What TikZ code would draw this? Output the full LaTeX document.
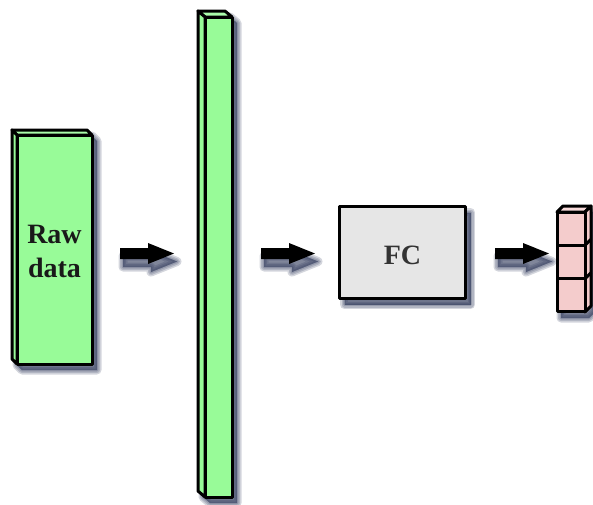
\documentclass[tikz,border=0pt]{standalone}
\usepackage{fontspec}
\setmainfont{Liberation Serif}
\definecolor{boxgreen}{RGB}{152,251,152}
\definecolor{topgreen}{RGB}{170,252,170}
\definecolor{boxpink}{RGB}{244,204,204}
\definecolor{toppink}{RGB}{248,218,218}
\definecolor{fcgray}{RGB}{230,230,230}
\definecolor{fctext}{RGB}{51,51,51}
\definecolor{shadowc}{RGB}{40,50,85}
\tikzset{
  outline/.style={draw=black, line width=3pt, line join=round},
  shadowlayer/.style={fill=shadowc, draw=shadowc, opacity=0.2, line join=round},
  blockarrow/.style={fill=black, draw=none},
  lbl/.style={font=\fontsize{28}{34}\selectfont\bfseries, align=center},
}
\begin{document}
\begin{tikzpicture}[x=1pt, y=-1pt]
\useasboundingbox (0,0) rectangle (593,504);
% ---------- shadows ----------
\foreach \w in {9,6,3,0.1} {
  % raw data prism
  \path[shadowlayer, line width=\w pt, shift={(5,6)}]
    (12,130) -- (87,130) -- (92,135) -- (92,364) -- (17,364) -- (12,359) -- cycle;
  % tall prism
  \path[shadowlayer, line width=\w pt, shift={(5,6)}]
    (198,11) -- (225,11) -- (232,17) -- (232,497) -- (205,497) -- (198,491) -- cycle;
  % FC box
  \path[shadowlayer, line width=\w pt, shift={(5,6)}]
    (339.5,206.5) rectangle (465.5,298.5);
  % cube stack
  \path[shadowlayer, line width=\w pt, shift={(4,6)}]
    (557,212) -- (563,206) -- (591,206) -- (591,306) -- (585,312) -- (557,312) -- cycle;
  % arrows
  \foreach \xa/\xh/\xt in {120/148/174, 261/289/315, 495/523/549} {
    \path[shadowlayer, line width=\w pt, shift={(3,8)}]
      (\xa,248) -- (\xh,248) -- (\xh,243) -- (\xt,253.5) -- (\xh,264) -- (\xh,259) -- (\xa,259) -- cycle;
  }
}
% ---------- raw data prism ----------
\path[outline, fill=topgreen] (12,130) -- (87,130) -- (92,135) -- (17,135) -- cycle;
\path[outline, fill=boxgreen] (12,130) -- (17,135) -- (17,364) -- (12,359) -- cycle;
\path[outline, fill=boxgreen] (17,135) rectangle (92,364);
\node[lbl, text=black!90] (raw) at (54.5,251) {Raw\\data};
% ---------- tall prism ----------
\path[outline, fill=topgreen] (198,11) -- (225,11) -- (232,17) -- (205,17) -- cycle;
\path[outline, fill=boxgreen] (198,11) -- (205,17) -- (205,497) -- (198,491) -- cycle;
\path[outline, fill=boxgreen] (205,17) rectangle (232,497);
% ---------- FC box ----------
\node[outline, fill=fcgray, minimum width=126pt, minimum height=92pt,
      inner sep=0pt] (fc) at (402.5,252.5) {};
\node[lbl, text=fctext, inner sep=0pt] (fclabel) at (402.5,255) {FC};
% ---------- cube stack ----------
\path[outline, fill=toppink] (557,212) -- (563,206) -- (591,206) -- (585,212) -- cycle;
\path[outline, fill=boxpink] (585,212) -- (591,206) -- (591,306) -- (585,312) -- cycle;
\foreach \i in {0,1,2} {
  \path[outline, fill=boxpink] (557,212+33.33*\i) rectangle (585,245.33+33.33*\i);
}
\draw[outline] (585,245.33) -- (591,239.33);
\draw[outline] (585,278.67) -- (591,272.67);
% ---------- arrows ----------
\foreach \xa/\xh/\xt in {120/148/174, 261/289/315, 495/523/549} {
  \path[blockarrow]
    (\xa,248) -- (\xh,248) -- (\xh,243) -- (\xt,253.5) -- (\xh,264) -- (\xh,259) -- (\xa,259) -- cycle;
}
\end{tikzpicture}
\end{document}
